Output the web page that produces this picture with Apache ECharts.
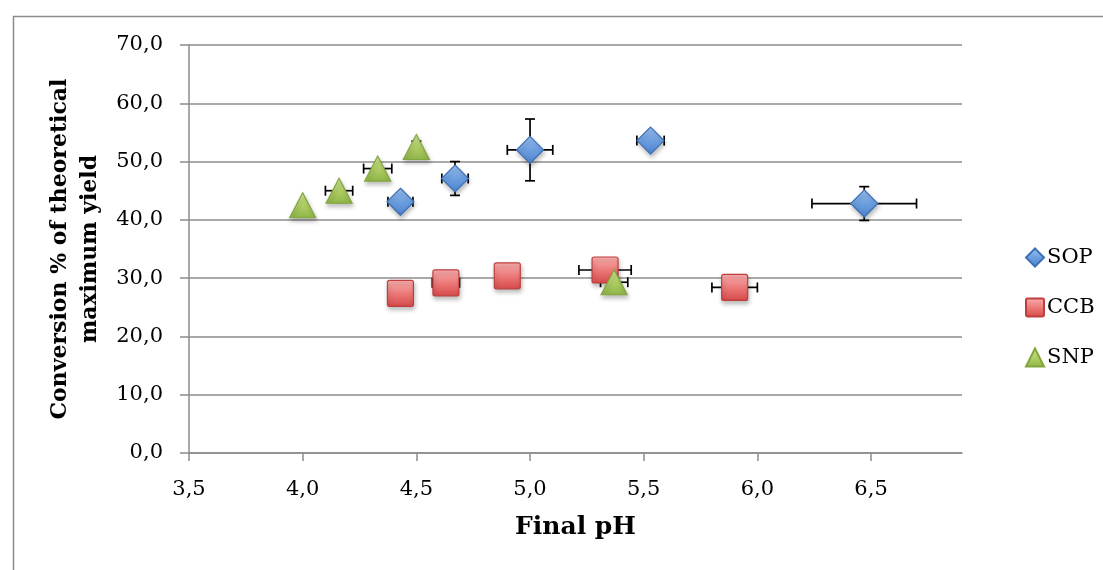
<!DOCTYPE html>
<html>
<head>
<meta charset="utf-8">
<script src="https://cdn.jsdelivr.net/npm/echarts@6/dist/echarts.min.js"></script>
<style>
html,body{margin:0;padding:0;background:#fff;}
#chart{width:1103px;height:570px;}
</style>
</head>
<body>
<div id="chart"></div>
<script>
// ---- data ----
const seriesNames = ['SOP', 'CCB', 'SNP'];
const sopPH = [4.43, 4.67, 5.00, 5.53, 6.47];
const sopConv = [43.1, 47.1, 52.0, 53.6, 42.8];
const sopPHErr = [0.055, 0.058, 0.10, 0.06, 0.23];
const sopConvErr = [0, 2.9, 5.3, 0, 2.9];

const ccbPH = [4.43, 4.63, 4.90, 5.33, 5.90];
const ccbConv = [27.4, 29.2, 30.4, 31.4, 28.4];
const ccbPHErr = [0.055, 0.06, 0, 0.115, 0.10];
const ccbConvErr = [0, 0, 0, 0, 0];

const snpPH = [4.00, 4.16, 4.33, 4.50, 5.37];
const snpConv = [42.5, 45.0, 48.8, 52.5, 29.3];
const snpPHErr = [0, 0.06, 0.062, 0, 0.06];
const snpConvErr = [0.5, 0, 0, 1.0, 0];

const xTicks = [3.5, 4.0, 4.5, 5.0, 5.5, 6.0, 6.5];
const yTicks = [0, 10, 20, 30, 40, 50, 60, 70];
const xTitle = 'Final pH';
const yTitle = 'Conversion % of theoretical\nmaximum yield';

// ---- build ----
function pts(xs, ys) { return xs.map((x, i) => [x, ys[i]]); }
function errs(xs, ys, ex, ey) { return xs.map((x, i) => [x, ys[i], ex[i], ey[i]]); }
const fmt = v => Number(v).toFixed(1).replace('.', ',');
const G = echarts.graphic.LinearGradient;

function errRender(params, api) {
  const x = api.value(0), y = api.value(1), ex = api.value(2), ey = api.value(3);
  const cap = 5;
  const st = { stroke: '#000', lineWidth: 1.7 };
  const ch = [];
  if (ex > 0) {
    const l = api.coord([x - ex, y]), r = api.coord([x + ex, y]);
    ch.push({ type: 'line', shape: { x1: l[0], y1: l[1], x2: r[0], y2: r[1] }, style: st });
    ch.push({ type: 'line', shape: { x1: l[0], y1: l[1] - cap, x2: l[0], y2: l[1] + cap }, style: st });
    ch.push({ type: 'line', shape: { x1: r[0], y1: r[1] - cap, x2: r[0], y2: r[1] + cap }, style: st });
  }
  if (ey > 0) {
    const t = api.coord([x, y + ey]), b = api.coord([x, y - ey]);
    ch.push({ type: 'line', shape: { x1: t[0], y1: t[1], x2: b[0], y2: b[1] }, style: st });
    ch.push({ type: 'line', shape: { x1: t[0] - cap, y1: t[1], x2: t[0] + cap, y2: t[1] }, style: st });
    ch.push({ type: 'line', shape: { x1: b[0] - cap, y1: b[1], x2: b[0] + cap, y2: b[1] }, style: st });
  }
  return { type: 'group', children: ch };
}

const shadow = { opacity: 1, shadowBlur: 4, shadowOffsetY: 3, shadowOffsetX: 1, shadowColor: 'rgba(0,0,0,0.25)' };
const styles = {
  SOP: Object.assign({ color: new G(0, 0, 0, 1, [{ offset: 0, color: '#9cc3f3' }, { offset: 0.5, color: '#6d9fe0' }, { offset: 1, color: '#4c82ca' }]), borderColor: '#3d70b5', borderWidth: 1.2 }, shadow),
  CCB: Object.assign({ color: new G(0, 0, 0, 1, [{ offset: 0, color: '#fbb0b0' }, { offset: 0.5, color: '#ec7a7a' }, { offset: 1, color: '#d64848' }]), borderColor: '#bf3f3f', borderWidth: 1.2 }, shadow),
  SNP: Object.assign({ color: new G(0, 0, 0, 1, [{ offset: 0, color: '#cfe796' }, { offset: 0.5, color: '#b0d067' }, { offset: 1, color: '#8fb447' }]), borderColor: '#82a63c', borderWidth: 1.2 }, shadow)
};
const squarePath = 'path://M2,0H24Q26,0,26,2V24Q26,26,24,26H2Q0,26,0,24V2Q0,0,2,0Z';

const chart = echarts.init(document.getElementById('chart'), null, { renderer: 'canvas' });
const serif = 'DejaVu Serif';
chart.setOption({
  animation: false,
  backgroundColor: '#fff',
  graphic: [{ type: 'rect', left: 11, top: 14, shape: { width: 1200, height: 700 }, style: { fill: 'none', stroke: '#8c8c8c', lineWidth: 1.5 }, silent: true }],
  grid: { left: 189, right: 141, top: 45, bottom: 117, containLabel: false },
  legend: {
    orient: 'vertical', left: 1020, top: 242, itemWidth: 18, itemHeight: 18, itemGap: 29,
    data: seriesNames,
    textStyle: { fontFamily: serif, fontSize: 21, lineHeight: 18, color: '#000', padding: [0, 0, 0, -2] }
  },
  xAxis: {
    type: 'value', min: 3.5, max: 6.9, interval: 0.5,
    name: xTitle, nameLocation: 'middle', nameGap: 62,
    nameTextStyle: { fontFamily: serif, fontWeight: 'bold', fontSize: 25, color: '#000' },
    axisLine: { show: true, lineStyle: { color: '#8c8c8c', width: 1.5 } },
    axisTick: { show: true, length: 8, customValues: xTicks, lineStyle: { color: '#8c8c8c', width: 1.5 } },
    axisLabel: { customValues: xTicks, formatter: fmt, margin: 26, fontFamily: serif, fontSize: 21, color: '#000' },
    splitLine: { show: false }
  },
  yAxis: {
    type: 'value', min: 0, max: 70, interval: 10,
    name: yTitle, nameLocation: 'middle', nameGap: 84,
    nameTextStyle: { fontFamily: serif, fontWeight: 'bold', fontSize: 22, color: '#000', lineHeight: 30 },
    axisLine: { show: true, lineStyle: { color: '#8c8c8c', width: 1.5 } },
    axisTick: { show: true, length: 9, customValues: yTicks, lineStyle: { color: '#8c8c8c', width: 1.5 } },
    axisLabel: { customValues: yTicks, formatter: fmt, margin: 26, fontFamily: serif, fontSize: 21, color: '#000' },
    splitLine: { show: true, lineStyle: { color: '#8c8c8c', width: 1.5 } }
  },
  series: [
    { type: 'custom', name: 'errSOP', renderItem: errRender, data: errs(sopPH, sopConv, sopPHErr, sopConvErr), z: 2, silent: true, encode: { x: 0, y: 1 } },
    { type: 'custom', name: 'errCCB', renderItem: errRender, data: errs(ccbPH, ccbConv, ccbPHErr, ccbConvErr), z: 2, silent: true, encode: { x: 0, y: 1 } },
    { type: 'custom', name: 'errSNP', renderItem: errRender, data: errs(snpPH, snpConv, snpPHErr, snpConvErr), z: 2, silent: true, encode: { x: 0, y: 1 } },
    { type: 'scatter', name: 'SOP', symbol: 'diamond', symbolSize: [27, 27], data: pts(sopPH, sopConv), itemStyle: styles.SOP, z: 5 },
    { type: 'scatter', name: 'CCB', symbol: squarePath, symbolSize: [26, 26], data: pts(ccbPH, ccbConv), itemStyle: styles.CCB, z: 4 },
    { type: 'scatter', name: 'SNP', symbol: 'triangle', symbolSize: [26, 25], data: pts(snpPH, snpConv), itemStyle: styles.SNP, z: 6 }
  ]
});
</script>
</body>
</html>
